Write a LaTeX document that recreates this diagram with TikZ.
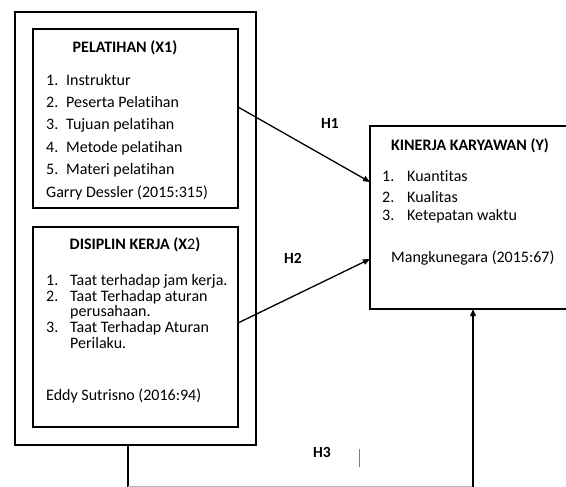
\documentclass[tikz,border=0pt]{standalone}
\usepackage{fontspec}
\setmainfont[Ligatures={NoCommon}]{Carlito}
\usetikzlibrary{arrows.meta}
\begin{document}
\begin{tikzpicture}[x=1pt,y=-1pt,
  font=\fontsize{16}{18}\selectfont,
  box/.style={draw, line width=2.4pt, inner sep=0, outer sep=0, anchor=north west},
  txt/.style={anchor=base west, inner sep=0},
  ttl/.style={anchor=base, inner sep=0, font=\fontsize{16}{18}\selectfont\bfseries},
  hlab/.style={inner sep=0, font=\fontsize{15.5}{18}\selectfont\bfseries},
  conn/.style={line width=1.3pt, -{Triangle[length=7pt,width=5.5pt]}},
  vline/.style={line width=2pt}]
\clip (0,0) rectangle (566,487);
\fill[white] (0,0) rectangle (566,487);
% boxes
\node[box, minimum width=241, minimum height=433] (outer) at (15,12) {};
\node[box, minimum width=205, minimum height=179] (b1) at (33,29) {};
\node[box, minimum width=205, minimum height=200] (b2) at (33,227) {};
\node[box, minimum width=200, minimum height=183] (yb) at (370,126) {};
% box 1 text
\node[ttl] (t1) at (125,53) {PELATIHAN (X1)};
\node[txt] (n11) at (46,86) {1.};   \node[txt] (i11) at (66,86) {Instruktur};
\node[txt] (n12) at (46,108) {2.};  \node[txt] (i12) at (66,108) {Peserta Pelatihan};
\node[txt] (n13) at (46,130) {3.};  \node[txt] (i13) at (66,130) {Tujuan pelatihan};
\node[txt] (n14) at (46,152.5) {4.};\node[txt] (i14) at (66,152.5) {Metode pelatihan};
\node[txt] (n15) at (46,174.5) {5.};\node[txt] (i15) at (66,174.5) {Materi pelatihan};
\node[txt] (s1) at (46,197) {Garry Dessler (2015:315)};
% box 2 text
\node[ttl] (t2) at (135,249) {DISIPLIN KERJA (X{\mdseries 2})};
\node[txt] (n21) at (46,285) {1.};  \node[txt] (i21) at (70,285) {Taat terhadap jam kerja.};
\node[txt] (n22) at (46,301) {2.};  \node[txt] (i22) at (70,301) {Taat Terhadap aturan};
\node[txt] (i22b) at (70,316.7) {perusahaan.};
\node[txt] (n23) at (46,332.7) {3.};\node[txt] (i23) at (70,332.7) {Taat Terhadap Aturan};
\node[txt] (i23b) at (70,348.3) {Perilaku.};
\node[txt] (s2) at (46,400) {Eddy Sutrisno (2016:94)};
% Y box text
\node[ttl] (t3) at (470,150) {KINERJA KARYAWAN (Y)};
\node[txt] (n31) at (382,182) {1.}; \node[txt] (i31) at (407,182) {Kuantitas};
\node[txt] (n32) at (382,202) {2.}; \node[txt] (i32) at (407,202) {Kualitas};
\node[txt] (n33) at (382,221) {3.}; \node[txt] (i33) at (407,221) {Ketepatan waktu};
\node[txt] (s3) at (391,262) {Mangkunegara (2015:67)};
% connectors
\coordinate (h1s) at (238,107);
\coordinate (h1e) at (370,182);
\coordinate (h2s) at (238,323);
\coordinate (h2e) at (370,259);
\draw[conn] (h1s) -- (h1e);
\draw[conn] (h2s) -- (h2e);
\coordinate (c1) at (128,487);
\coordinate (c2) at (473,487);
\draw[vline] (c1 |- outer.south) -- (c1);
\draw[gray!60, line width=1pt] (128,486) -- (473,486);
\draw[conn, line width=2pt] (c2) -- (c2 |- yb.south);
% labels
\node[hlab] (l1) at (330,123) {H1};
\node[hlab] (l2) at (293,258) {H2};
\node[hlab] (l3) at (322,452) {H3};
\coordinate (bar1) at (359,449);
\coordinate (bar2) at (359,467);
\draw[gray, line width=1pt] (bar1) -- (bar2);
\end{tikzpicture}
\end{document}
